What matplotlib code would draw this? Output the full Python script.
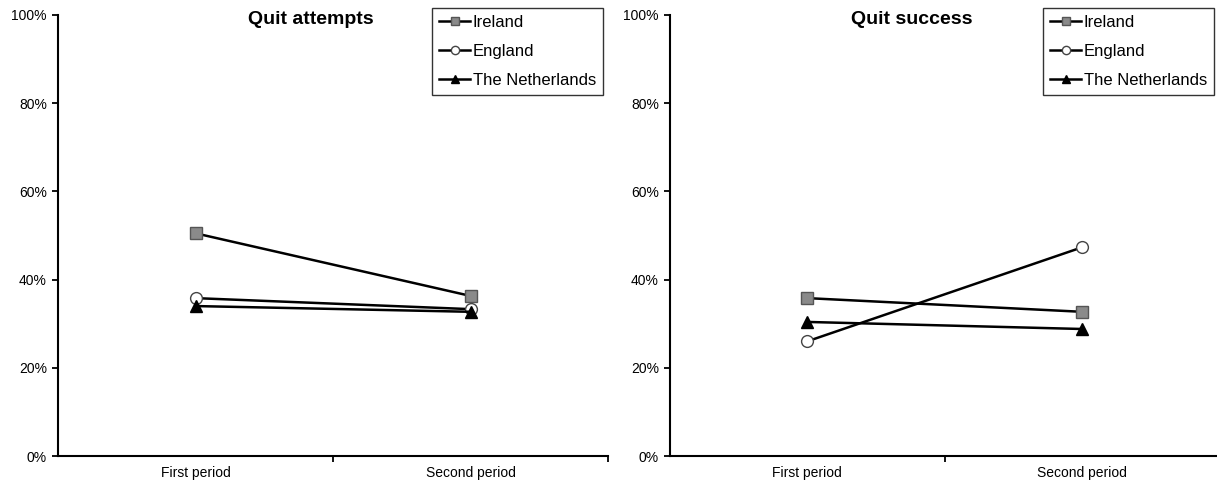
import matplotlib
matplotlib.use("Agg")
import matplotlib.pyplot as plt
from matplotlib.ticker import FixedLocator, PercentFormatter

plt.rcParams['font.family'] = ['Liberation Sans', 'DejaVu Sans']

periods = ["First period", "Second period"]
countries = ["Ireland", "England", "The Netherlands"]
attempts = {
    "Ireland": [50.5, 36.3],
    "England": [35.8, 33.3],
    "The Netherlands": [34.0, 32.7],
}
success = {
    "Ireland": [35.8, 32.7],
    "England": [26.0, 47.3],
    "The Netherlands": [30.4, 28.8],
}
titles = ["Quit attempts", "Quit success"]

styles = {
    "Ireland": dict(marker="s", markersize=8.5, markerfacecolor="#8a8a8a", markeredgecolor="#555555", markeredgewidth=1.0),
    "England": dict(marker="o", markersize=8.5, markerfacecolor="white", markeredgecolor="#444444", markeredgewidth=1.0),
    "The Netherlands": dict(marker="^", markersize=8.5, markerfacecolor="black", markeredgecolor="black", markeredgewidth=1.0),
}

W, H = 1217, 482
fig = plt.figure(figsize=(W / 100, H / 100), dpi=100)

y0, y1 = 456, 15
panels = [(58, 608), (670, 1219)]
title_x = [311, 912]
legend_boxes = [(432, 8), (1043, 8)]

for i, (data, (xl, xr)) in enumerate(zip([attempts, success], panels)):
    ax = fig.add_axes([xl / W, (H - y0) / H, (xr - xl) / W, (y0 - y1) / H])
    xs = list(range(len(periods)))
    for c in countries:
        ax.plot(xs, data[c], color="black", linewidth=1.8, label=c, **styles[c])
    ax.set_xlim(-0.5, 1.5)
    ax.set_ylim(0, 100)
    ax.yaxis.set_major_locator(FixedLocator([0, 20, 40, 60, 80, 100]))
    ax.yaxis.set_major_formatter(PercentFormatter(decimals=0))
    ax.xaxis.set_major_locator(FixedLocator([0.5, 1.5]))
    ax.xaxis.set_major_formatter(plt.NullFormatter())
    ax.xaxis.set_minor_locator(FixedLocator(xs))
    ax.set_xticklabels(periods, minor=True)
    ax.tick_params(axis="x", which="major", direction="out", length=4, width=1.3)
    ax.tick_params(axis="x", which="minor", length=0, pad=7, labelsize=10)
    ax.tick_params(axis="y", direction="out", length=4, width=1.3, labelsize=10, pad=4)
    for s in ["top", "right"]:
        ax.spines[s].set_visible(False)
    for s in ["left", "bottom"]:
        ax.spines[s].set_linewidth(1.5)
    ax.patch.set_alpha(0)
    fig.text(title_x[i] / W, 1 - 20 / H, titles[i], ha="center", va="center",
             fontsize=14, fontweight="bold")
    lx, ly = legend_boxes[i]
    leg = ax.legend(loc="upper left", bbox_to_anchor=(lx / W, 1 - ly / H),
                    bbox_transform=fig.transFigure, fontsize=12, frameon=True,
                    fancybox=False, edgecolor="black", handlelength=1.9,
                    handletextpad=0.15, borderpad=0.4, labelspacing=0.85,
                    borderaxespad=0, markerscale=0.7)
    leg.get_frame().set_linewidth(1.0)

fig.savefig("out.png", dpi=100)
